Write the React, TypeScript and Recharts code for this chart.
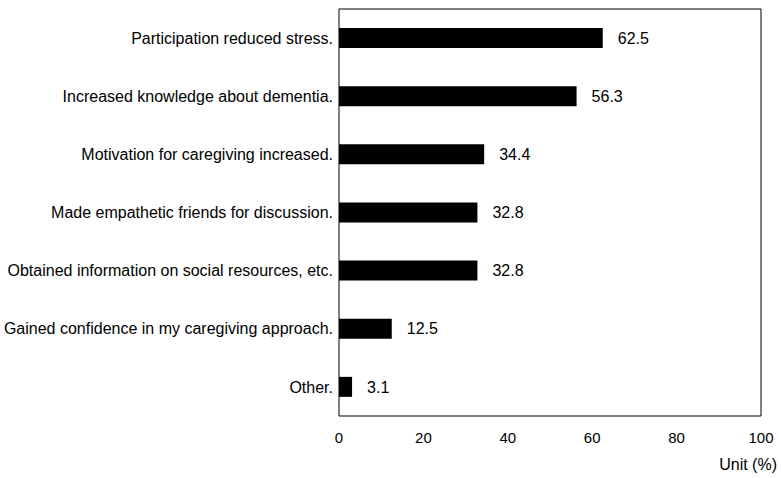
import React from 'react';
import { BarChart, Bar, XAxis, YAxis, ReferenceArea, LabelList, Label } from 'recharts';

const categories = [
  'Participation reduced stress.',
  'Increased knowledge about dementia.',
  'Motivation for caregiving increased.',
  'Made empathetic friends for discussion.',
  'Obtained information on social resources, etc.',
  'Gained confidence in my caregiving approach.',
  'Other.',
];
const percentages = [62.5, 56.3, 34.4, 32.8, 32.8, 12.5, 3.1];
const xTicks = [0, 20, 40, 60, 80, 100];

const data = categories.map((name, i) => ({ name, value: percentages[i] }));

const font = '"Liberation Sans", Arial, sans-serif';

const UnitLabel = (props: any) => {
  const vb = props.viewBox || { x: 0, y: 0, width: 0, height: 0 };
  return (
    <text x={vb.x + vb.width + 16} y={vb.y + vb.height + 24} textAnchor="end" fontSize={16} fill="#000" fontFamily={font}>
      Unit (%)
    </text>
  );
};

const App = () => {
  return (
    <div style={{ position: 'absolute', left: 0, top: 0, background: '#fff' }}>
      <BarChart
        width={781}
        height={478}
        data={data}
        layout="vertical"
        margin={{ top: 9, right: 20, left: 0, bottom: 32 }}
        style={{ fontFamily: font }}
      >
        <XAxis
          type="number"
          domain={[0, 100]}
          ticks={xTicks}
          axisLine={false}
          tickLine={false}
          tickSize={0}
          tickMargin={16}
          height={30}
          tick={{ fill: '#000', fontSize: 15 }}
          interval={0}
        >
          <Label content={<UnitLabel />} />
        </XAxis>
        <YAxis
          type="category"
          dataKey="name"
          width={339}
          axisLine={false}
          tickLine={false}
          tickSize={0}
          tickMargin={6}
          interval={0}
          tick={{ fill: '#000', fontSize: 16 }}
        />
        <ReferenceArea x1={0} x2={100} y1={categories[0]} y2={categories[categories.length - 1]} fill="none" stroke="#000" strokeWidth={1} ifOverflow="extendDomain" />
        <Bar dataKey="value" fill="#000" barSize={20} isAnimationActive={false}>
          <LabelList dataKey="value" position="right" offset={15} fill="#000" fontSize={16} />
        </Bar>
      </BarChart>
    </div>
  );
};

export default App;
